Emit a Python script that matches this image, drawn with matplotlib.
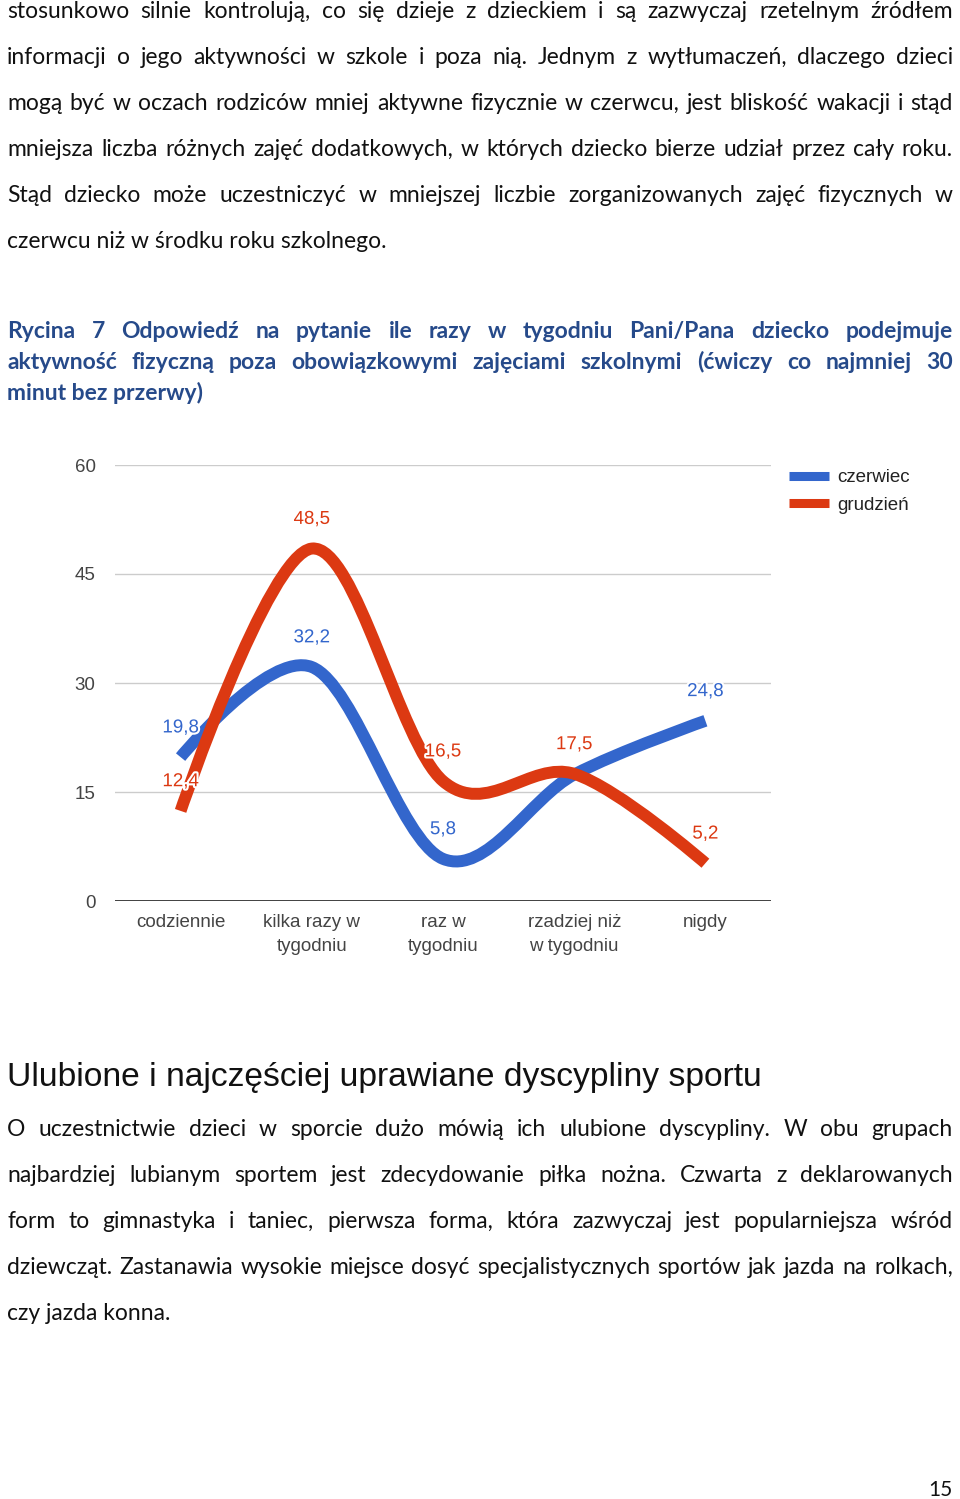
import matplotlib
matplotlib.use("Agg")
import matplotlib.pyplot as plt
import matplotlib.patheffects as pe
from matplotlib.path import Path
from matplotlib.patches import PathPatch
from matplotlib.lines import Line2D

W, H = 960, 1499

# chart data
categories = ["codziennie", "kilka razy w\ntygodniu", "raz w\ntygodniu",
              "rzadziej niż\nw tygodniu", "nigdy"]
czerwiec = [19.8, 32.2, 5.8, 17.4, 24.8]
grudzien = [12.4, 48.5, 16.5, 17.5, 5.2]
show_czerwiec = [True, True, True, False, True]   # label hidden under the crossing
show_grudzien = [True, True, True, True, True]
series_names = ["czerwiec", "grudzień"]
yticks = [0, 15, 30, 45, 60]

BLUE = "#3366cc"
RED = "#dc3912"
CAPTION = "#264a8a"

# page text
par1 = [
    "stosunkowo silnie kontrolują, co się dzieje z dzieckiem i są zazwyczaj rzetelnym źródłem",
    "informacji o jego aktywności w szkole i poza nią. Jednym z wytłumaczeń, dlaczego dzieci",
    "mogą być w oczach rodziców mniej aktywne fizycznie w czerwcu, jest bliskość wakacji i stąd",
    "mniejsza liczba różnych zajęć dodatkowych, w których dziecko bierze udział przez cały roku.",
    "Stąd dziecko może uczestniczyć w mniejszej liczbie zorganizowanych zajęć fizycznych w",
    "czerwcu niż w środku roku szkolnego.",
]
caption = [
    "Rycina 7 Odpowiedź na pytanie ile razy w tygodniu Pani/Pana dziecko podejmuje",
    "aktywność fizyczną poza obowiązkowymi zajęciami szkolnymi (ćwiczy co najmniej 30",
    "minut bez przerwy)",
]
heading = "Ulubione i najczęściej uprawiane dyscypliny sportu"
par2 = [
    "O uczestnictwie dzieci w sporcie dużo mówią ich ulubione dyscypliny. W obu grupach",
    "najbardziej lubianym sportem jest zdecydowanie piłka nożna. Czwarta z deklarowanych",
    "form to gimnastyka i taniec, pierwsza forma, która zazwyczaj jest popularniejsza wśród",
    "dziewcząt. Zastanawia wysokie miejsce dosyć specjalistycznych sportów jak jazda na rolkach,",
    "czy jazda konna.",
]
page_no = "15"


def fy(py):
    return 1 - py / H


def put_lines(fig, lines, x0, x1, baselines, size, **kw):
    # justified block, last line left aligned
    r = fig.canvas.get_renderer()
    for k, (line, yb) in enumerate(zip(lines, baselines)):
        words = line.split()
        if k == len(lines) - 1 or len(words) == 1:
            fig.text(x0 / W, fy(yb), line, fontsize=size, va="baseline", **kw)
            continue
        sz = size
        while True:
            ts = [fig.text(0, 0, w, fontsize=sz, va="baseline", **kw) for w in words]
            widths = [t.get_window_extent(r).width for t in ts]
            gap = (x1 - x0 - sum(widths)) / (len(words) - 1)
            if gap >= 0.18 * sz * 100 / 72 or sz < size * 0.85:
                break
            for t in ts:
                t.remove()
            sz -= 0.2
        x = x0
        for t, w in zip(ts, widths):
            t.set_position((x / W, fy(yb)))
            x += w + gap


def smooth_path(xs, ys):
    # cubic curve through the points, like the "function" curve of the original
    n = len(xs)

    def slope(i):
        if i == 0 or i == n - 1:
            return None
        return (ys[i + 1] - ys[i - 1]) / (xs[i + 1] - xs[i - 1])

    verts = [(xs[0], ys[0])]
    codes = [Path.MOVETO]
    for i in range(n - 1):
        dx = (xs[i + 1] - xs[i]) / 3
        m0, m1 = slope(i), slope(i + 1)
        c1 = (xs[i] + dx, ys[i] + m0 * dx) if m0 is not None else (xs[i], ys[i])
        c2 = (xs[i + 1] - dx, ys[i + 1] - m1 * dx) if m1 is not None else (xs[i + 1], ys[i + 1])
        verts += [c1, c2, (xs[i + 1], ys[i + 1])]
        codes += [Path.CURVE4] * 3
    return Path(verts, codes)


fig = plt.figure(figsize=(W / 100, H / 100), dpi=100)
fig.patch.set_facecolor("white")

body_font = ["Lato", "DejaVu Sans"]
BODY = 16.5

put_lines(fig, par1, 7, 953, [17.5 + 46 * i for i in range(len(par1))], BODY,
          family=body_font, color="#111111")
put_lines(fig, caption, 7, 953, [338, 369, 400], BODY,
          family=body_font, weight="bold", color=CAPTION)
fig.text(7 / W, fy(1086), heading, fontsize=24.2, va="baseline",
         family=["Liberation Sans", "DejaVu Sans"], color="#111111")
put_lines(fig, par2, 7, 953, [1136 + 46 * i for i in range(len(par2))], BODY,
          family=body_font, color="#111111")
fig.text(953 / W, fy(1496), page_no, fontsize=15, va="baseline", ha="right",
         family=body_font, color="#111111")

# chart
chart_font = ["Liberation Sans", "DejaVu Sans"]
ax = fig.add_axes([115 / W, fy(901), 656 / W, 436 / H])
x = list(range(len(categories)))
ax.set_xlim(-0.5, len(categories) - 0.5)
ax.set_ylim(0, 60)
ax.set_yticks(yticks)
ax.set_xticks(x)
ax.set_xticklabels(categories, linespacing=1.55)
ax.tick_params(length=0, labelsize=13.5, colors="#444444")
ax.tick_params(axis="y", pad=14)
ax.tick_params(axis="x", pad=9)
for lab in ax.get_xticklabels() + ax.get_yticklabels():
    lab.set_family(chart_font)
for s in ax.spines.values():
    s.set_visible(False)
ax.grid(axis="y", color="#cccccc", lw=1)
ax.set_axisbelow(True)
ax.axhline(0, color="#333333", lw=1.3, zorder=1)

for vals, col, shown in [(czerwiec, BLUE, show_czerwiec), (grudzien, RED, show_grudzien)]:
    ax.add_patch(PathPatch(smooth_path(x, vals), fill=False, edgecolor=col, lw=8.6,
                           capstyle="butt", joinstyle="round", zorder=3))
    for xi, v, sh in zip(x, vals, shown):
        if not sh:
            continue
        ax.annotate(f"{v:.1f}".replace(".", ","), (xi, v), xytext=(0, 21),
                    textcoords="offset points", ha="center", va="center",
                    fontsize=13.5, color=col, family=chart_font, zorder=5,
                    path_effects=[pe.withStroke(linewidth=3, foreground="white")])

handles = [Line2D([], [], color=c, lw=6.5, solid_capstyle="butt") for c in (BLUE, RED)]
fig.legend(handles, series_names, loc="upper left",
           bbox_to_anchor=(780 / W, fy(460)), frameon=False,
           prop={"family": chart_font, "size": 13.5}, labelcolor="#222222",
           handlelength=2.1, handletextpad=0.45, labelspacing=0.55, borderpad=0)

fig.savefig("out.png", dpi=100, facecolor="white")
